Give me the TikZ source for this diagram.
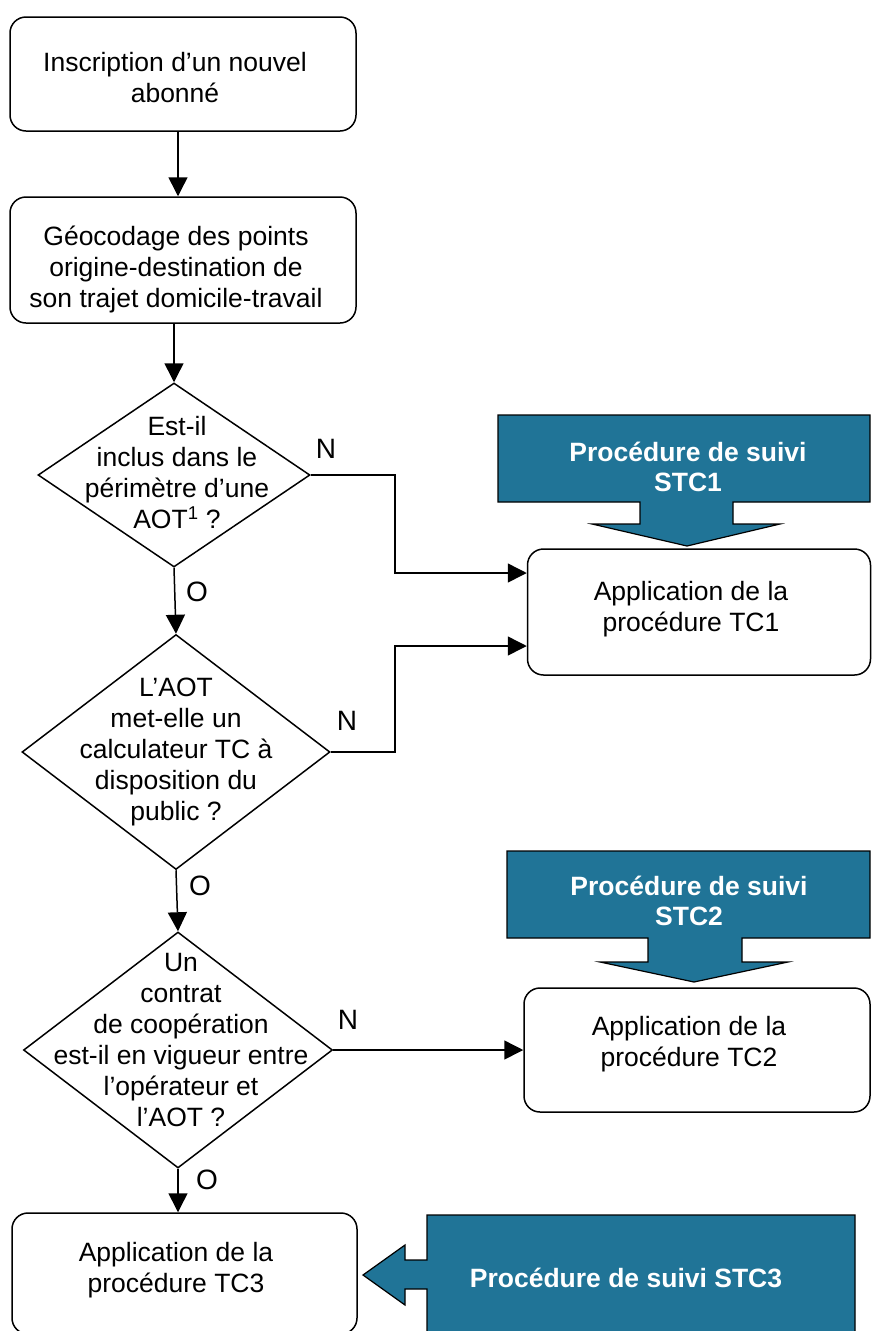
\documentclass[tikz,border=0pt]{standalone}
\usepackage{fontspec}
\setmainfont{Liberation Sans}
\usetikzlibrary{shapes.geometric,arrows.meta}
\definecolor{callfill}{RGB}{32,116,151}
\tikzset{
  lbl/.style={font=\fontsize{26.5}{31}\selectfont, align=center, inner sep=0pt},
  yn/.style={font=\fontsize{28}{31}\selectfont, inner sep=0pt},
  box/.style={draw, line width=1.5pt, rounded corners=16pt, inner sep=0pt},
  dia/.style={draw, diamond, line width=1.5pt, inner sep=0pt},
  arr/.style={line width=1.5pt, -{Triangle[length=19pt,width=19pt]}},
  callout/.style={draw=black, line width=1.2pt, fill=callfill},
  ctext/.style={lbl, text=white, font=\bfseries\fontsize{26.5}{30}\selectfont},
}
\begin{document}
\begin{tikzpicture}[x=1pt,y=-1pt]
\useasboundingbox (0,0) rectangle (872,1331);
\clip (0,0) rectangle (872,1331);

% boxes
\node[box, minimum width=346pt, minimum height=114pt] (b1) at (183,74) {};
\node[lbl] (b1t) at (175,78) {Inscription d’un nouvel\\abonné};
\node[box, minimum width=346pt, minimum height=126pt] (b2) at (183,260) {};
\node[lbl] (b2t) at (176,269) {Géocodage des points\\origine-destination de\\son trajet domicile-travail};
\node[box, minimum width=343pt, minimum height=126pt] (tc1) at (699,612) {};
\node[lbl] (tc1t) at (691,609) {Application de la\\procédure TC1};
\node[box, minimum width=346pt, minimum height=124pt] (tc2) at (697,1050) {};
\node[lbl] (tc2t) at (689,1044) {Application de la\\procédure TC2};
\node[box, minimum width=345pt, minimum height=121pt] (tc3) at (184.5,1273.5) {};
\node[lbl] (tc3t) at (176,1270) {Application de la\\procédure TC3};

% diamonds
\node[dia, minimum width=272pt, minimum height=184pt] (d1) at (174,475) {};
\node[lbl] (d1t) at (177,473) {Est-il\\inclus dans le\\périmètre d’une\\AOT\textsuperscript{1} ?};
\node[dia, minimum width=308pt, minimum height=235pt] (d2) at (176,752) {};
\node[lbl] (d2t) at (176,752) {L’AOT\\met-elle un\\calculateur TC à\\disposition du\\public ?};
\node[dia, minimum width=309pt, minimum height=236pt] (d3) at (178,1050) {};
\node[lbl] (d3t) at (181,1040) {Un\\contrat\\de coopération\\est-il en vigueur entre\\l’opérateur et\\l’AOT ?};

% labels
\node[yn] (n1) at (326,449) {N};
\node[yn] (n2) at (347,721) {N};
\node[yn] (n3) at (348,1020) {N};
\node[yn] (o1) at (197,592) {O};
\node[yn] (o2) at (200,886) {O};
\node[yn] (o3) at (207,1180) {O};

% connectors
\draw[arr] ([xshift=-5pt]b1.south) -- ([xshift=-5pt]b2.north);
\draw[arr] (b2.south -| d1.north) -- (d1.north);
\draw[arr] (d1.south) -- (d2.north);
\draw[arr] (d2.south) -- (d3.north);
\draw[arr] (d3.south) -- (d3.south |- tc3.north);
\draw[arr] (d1.east) -- ++(84,0) |- ([yshift=39pt]tc1.west);
\draw[arr] (d2.east) -- ++(64,0) |- ([yshift=-34pt]tc1.west);
\draw[arr] (d3.east) -- (tc2.west);

% callouts
\draw[callout] (498,415) -- (870,415) -- (870,502) -- (733,502) -- (733,524) -- (780,524) -- (687,546) -- (592,524) -- (640,524) -- (640,502) -- (498,502) -- cycle;
\node[ctext] (s1) at (688,467) {Procédure de suivi\\STC1};
\draw[callout] (507,851) -- (870,851) -- (870,938) -- (742,938) -- (742,962) -- (788,962) -- (694,982) -- (600,962) -- (648,962) -- (648,938) -- (507,938) -- cycle;
\node[ctext] (s2) at (689,901) {Procédure de suivi\\STC2};
\draw[callout] (427,1215) -- (855,1215) -- (855,1345) -- (427,1345) -- (427,1289) -- (405,1289) -- (405,1305) -- (363,1275) -- (405,1245) -- (405,1260) -- (427,1260) -- cycle;
\node[ctext] (s3) at (626,1278) {Procédure de suivi STC3};
\end{tikzpicture}
\end{document}
